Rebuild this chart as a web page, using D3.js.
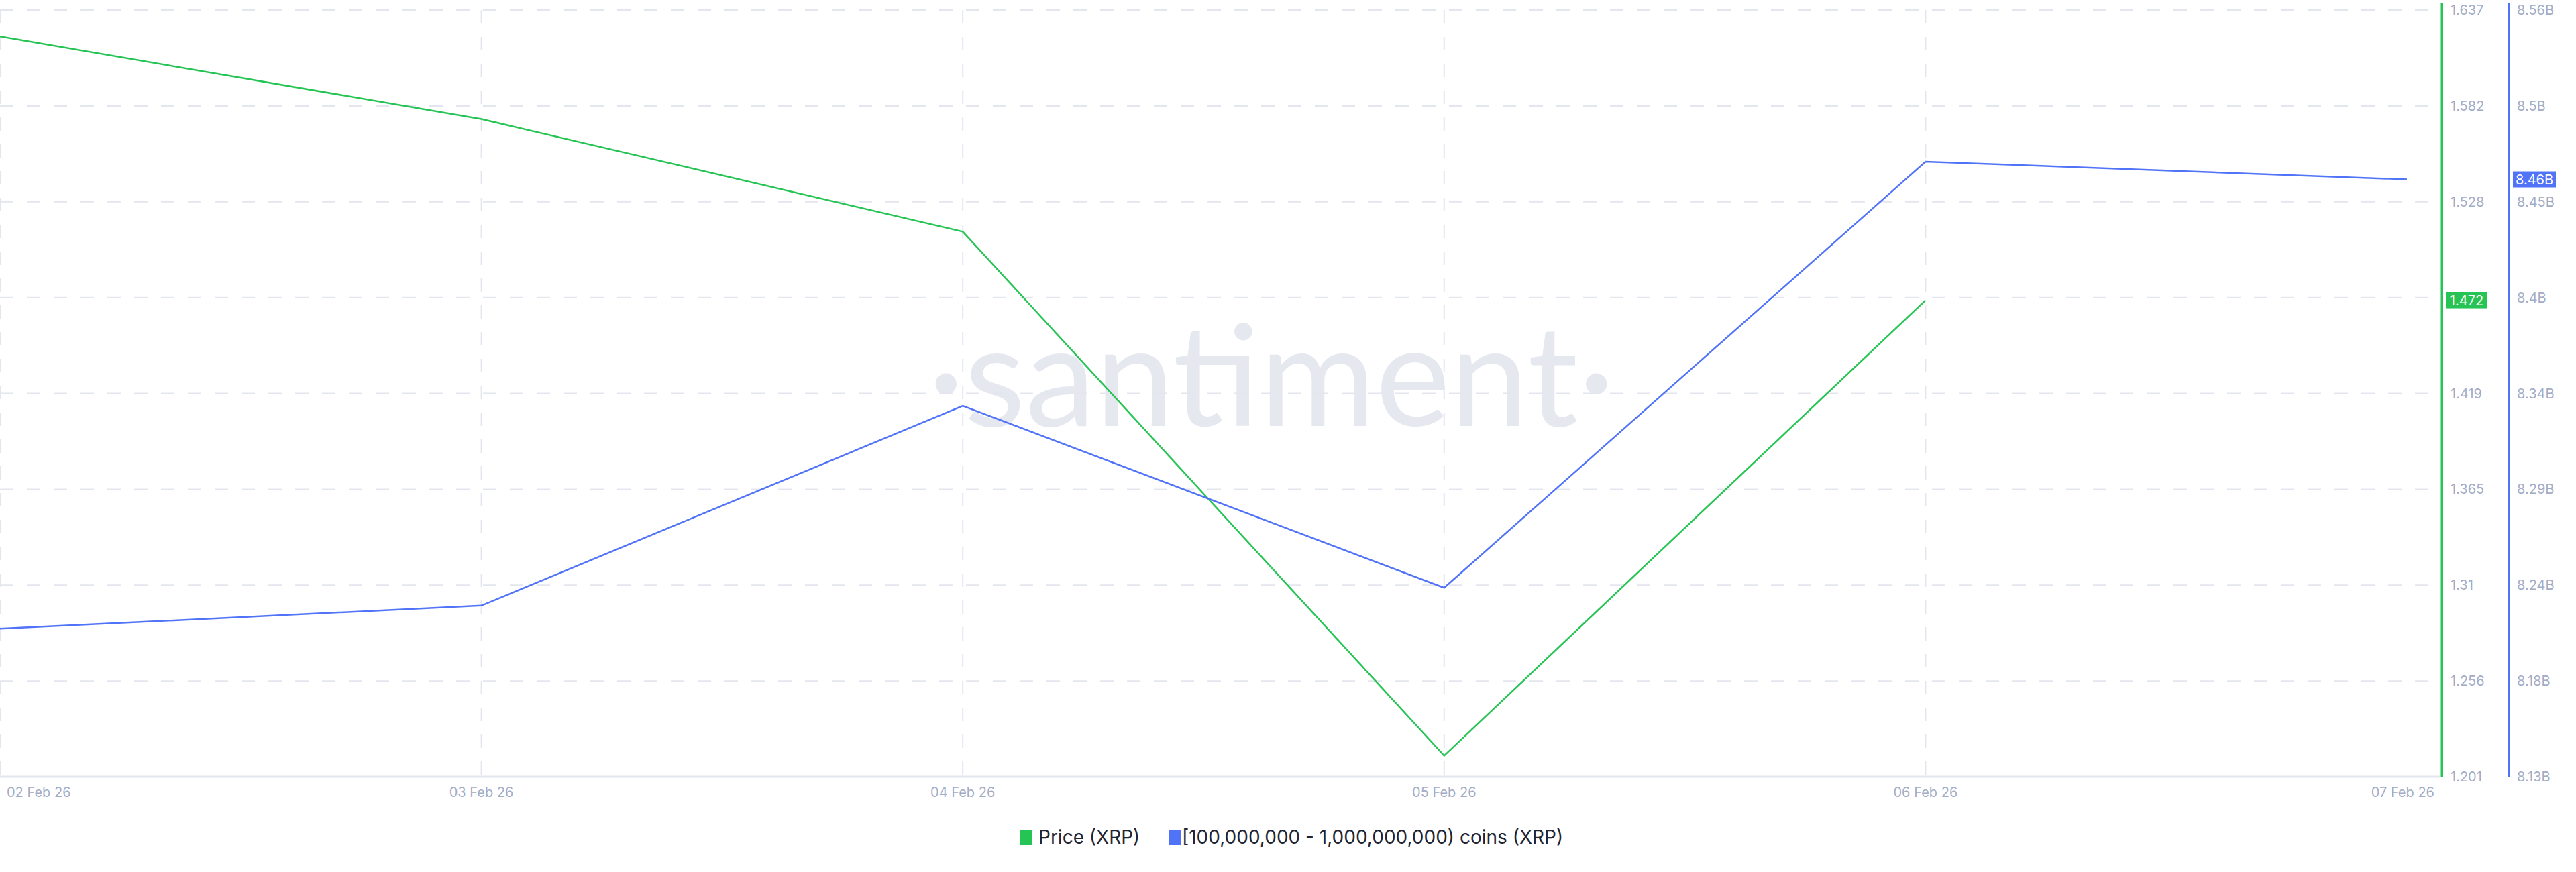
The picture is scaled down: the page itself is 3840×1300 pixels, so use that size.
<!DOCTYPE html>
<html><head><meta charset="utf-8">
<script src="https://cdn.jsdelivr.net/npm/d3@7"></script>
<style>body{margin:0;background:#fff;font-family:Inter,"Open Sans",sans-serif}</style>
</head><body><svg id="c" width="3840" height="1300"></svg>
<script>
const dates = ["2026-02-02T00:00","2026-02-03T00:00","2026-02-04T00:00","2026-02-05T00:00","2026-02-06T00:00"];
const priceValues = [1.622, 1.575, 1.511, 1.213, 1.472];
const holderDates = ["2026-02-02T00:00","2026-02-03T00:00","2026-02-04T00:00","2026-02-05T00:00","2026-02-06T00:00","2026-02-07T00:00"];
const holderValues = [8.213, 8.226, 8.338, 8.236, 8.475, 8.465];
const xTickLabels = ["02 Feb 26","03 Feb 26","04 Feb 26","05 Feb 26","06 Feb 26","07 Feb 26"];
const priceTicks = [1.201,1.256,1.31,1.365,1.419,1.472,1.528,1.582,1.637];
const holderTicks = ["8.13B","8.18B","8.24B","8.29B","8.34B","8.4B","8.45B","8.5B","8.56B"];

const svg = d3.select("#c");
const L=0, R=3637, T=15, B=1158;
const parse = d3.timeParse("%Y-%m-%dT%H:%M");
const x = d3.scaleTime().domain([parse("2026-02-02T00:00"), parse("2026-02-07T00:00")]).range([L,3588]);
const yP = d3.scaleLinear().domain([1.201,1.637]).range([B,T]);
const yH = d3.scaleLinear().domain([8.13,8.56]).range([B,T]);
const yIdx = d3.scaleLinear().domain([0,8]).range([B,T]);

svg.append("text").attr("x",1895).attr("y",635).attr("text-anchor","middle")
  .attr("font-size",210).attr("fill","#e6e8f0").attr("font-family","Lato,sans-serif").text("·santiment·");

const gh = svg.append("g");
priceTicks.forEach((t,i)=>{ if(i>0) gh.append("line").attr("x1",L).attr("x2",R).attr("y1",yIdx(i)).attr("y2",yIdx(i))
  .attr("stroke","#e3e6ee").attr("stroke-width",2).attr("stroke-dasharray","20,20"); });
xTickLabels.forEach((t,i)=>{ if(i===5) return; const xx=x(d3.timeDay.offset(parse("2026-02-02T00:00"),i));
  gh.append("line").attr("x1",xx).attr("x2",xx).attr("y1",T).attr("y2",B)
  .attr("stroke","#e3e6ee").attr("stroke-width",2).attr("stroke-dasharray","20,20"); });
svg.append("line").attr("x1",L).attr("x2",R).attr("y1",B).attr("y2",B).attr("stroke","#e3e6ee").attr("stroke-width",3);

xTickLabels.forEach((t,i)=>{ const xx = i===5 ? R-8 : x(d3.timeDay.offset(parse("2026-02-02T00:00"),i));
  svg.append("text").attr("x", i===0?xx+10:xx).attr("y",B+30)
   .attr("text-anchor", i===0?"start":(i===5?"end":"middle"))
   .attr("font-size",20).attr("fill","#a2acc6").text(t); });

svg.append("line").attr("x1",R+3).attr("x2",R+3).attr("y1",T-10).attr("y2",B).attr("stroke","#26c454").attr("stroke-width",3);
svg.append("line").attr("x1",3740).attr("x2",3740).attr("y1",T-10).attr("y2",B).attr("stroke","#5073f7").attr("stroke-width",3);
priceTicks.forEach((t,i)=>{ if(t!==1.472) svg.append("text").attr("x",3653).attr("y",yIdx(i)+7).attr("font-size",20).attr("fill","#a2acc6").text(t); });
holderTicks.forEach((t,i)=>{ svg.append("text").attr("x",3752).attr("y",yIdx(i)+7).attr("font-size",20).attr("fill","#a2acc6").text(t); });

const lp = d3.line().x((d,i)=>x(parse(dates[i]))).y(d=>yP(d));
svg.append("path").attr("d",lp(priceValues)).attr("fill","none").attr("stroke","#26c454").attr("stroke-width",2.5);
const lh = d3.line().x((d,i)=>x(parse(holderDates[i]))).y(d=>yH(d));
svg.append("path").attr("d",lh(holderValues)).attr("fill","none").attr("stroke","#5073f7").attr("stroke-width",2.5);

const pl = priceValues[priceValues.length-1], yp=yP(pl);
svg.append("rect").attr("x",3646).attr("y",yp-12).attr("width",62).attr("height",24).attr("fill","#26c454");
svg.append("text").attr("x",3677).attr("y",yp+7).attr("text-anchor","middle").attr("font-size",20).attr("fill","#fff").text(pl.toFixed(3));
const hl = holderValues[holderValues.length-1], yh=yH(hl);
svg.append("rect").attr("x",3746).attr("y",yh-12).attr("width",64).attr("height",24).attr("fill","#5073f7");
svg.append("text").attr("x",3778).attr("y",yh+7).attr("text-anchor","middle").attr("font-size",20).attr("fill","#fff").text(hl.toFixed(2)+"B");

const lg = svg.append("g").attr("transform","translate(1520,1250)");
lg.append("rect").attr("x",0).attr("y",-12).attr("width",18).attr("height",22).attr("fill","#26c454");
lg.append("text").attr("x",28).attr("y",8).attr("font-size",28).attr("fill","#1f2532").text("Price (XRP)");
lg.append("rect").attr("x",222).attr("y",-12).attr("width",18).attr("height",22).attr("fill","#5073f7");
lg.append("text").attr("x",242).attr("y",8).attr("font-size",28).attr("fill","#1f2532").text("[100,000,000 - 1,000,000,000) coins (XRP)");
</script></body></html>
